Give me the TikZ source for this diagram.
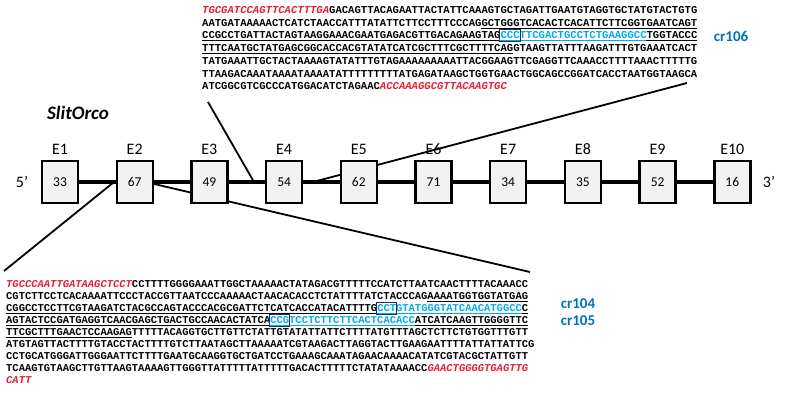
\documentclass[tikz,border=0pt]{standalone}
\usepackage{fontspec}
\setmainfont{Carlito}
\newfontfamily\seqfont{Liberation Mono}
\definecolor{seqred}{RGB}{228,30,52}
\definecolor{seqcyan}{RGB}{0,170,235}
\definecolor{crblue}{RGB}{0,112,192}
\definecolor{boxblue}{RGB}{25,50,95}
\definecolor{boxgray}{RGB}{242,242,242}
\newcommand\R[1]{{\color{seqred}\itshape #1}}
\newcommand\C[1]{{\color{seqcyan}#1}}
\def\cwT{6.349}
\def\cwB{6.289}
\pgfdeclarelayer{bg}
\pgfsetlayers{bg,main}
\tikzset{
  seqT/.style={anchor=base west, inner sep=0pt, font=\seqfont\bfseries\fontsize{10.58}{12}\selectfont},
  seqB/.style={anchor=base west, inner sep=0pt, font=\seqfont\bfseries\fontsize{10.48}{12}\selectfont},
  exon/.style={draw, line width=2.4pt, fill=boxgray, minimum width=36pt, minimum height=42pt, inner sep=0pt, font=\fontsize{13.5}{14}\selectfont},
  elabel/.style={font=\fontsize{16}{18}\selectfont, inner sep=0pt},
  endlabel/.style={font=\fontsize{16}{18}\selectfont, inner sep=0pt},
  genelink/.style={line width=3.8pt},
  zoomline/.style={line width=1.8pt},
  crlab/.style={text=crblue, font=\bfseries\fontsize{15}{16}\selectfont, inner sep=0pt},
  uline/.style={line width=0.8pt},
  ulinec/.style={line width=0.8pt, draw=seqcyan},
  pambox/.style={draw=boxblue, line width=1pt},
}
\begin{document}
\begin{tikzpicture}[x=1pt,y=-1pt]
\useasboundingbox (0,0) rectangle (787,392);

% gene structure
\foreach \n/\lab [count=\i] in {33/E1,67/E2,49/E3,54/E4,62/E5,71/E6,34/E7,35/E8,52/E9,16/E10}{
  \node[exon] (e\i) at ({60+74.7*(\i-1)},182) {\n};
  \node[elabel] (l\i) at ({60+74.7*(\i-1)},149) {\lab};
}
\node[endlabel] (p5) at (22,182) {5’};
\node[endlabel] (p3) at (769,182) {3’};
\node[inner sep=0pt, font=\bfseries\itshape\fontsize{19}{20}\selectfont] (title) at (78,113) {SlitOrco};

% zoom line end points
\coordinate (tA) at (208,102);
\coordinate (tAe) at (254,182);
\coordinate (tB) at (687,83);
\coordinate (tBe) at (313,182);
\coordinate (bA) at (4,271);
\coordinate (bAe) at (114,182);
\coordinate (bB) at (530,272);
\coordinate (bBe) at (150,183);

\begin{pgfonlayer}{bg}
  \draw[zoomline] (tA) -- (tAe);
  \draw[zoomline] (tB) -- (tBe);
  \draw[zoomline] (bA) -- (bAe);
  \draw[zoomline] (bB) -- (bBe);
  \draw[genelink] (e1.center) -- (e10.center);
\end{pgfonlayer}

% top sequence block
\node[seqT] (t1) at (202,13.5) {\R{TGCGATCCAGTTCACTTTGA}GACAGTTACAGAATTACTATTCAAAGTGCTAGATTGAATGTAGGTGCTATGTACTGTG};
\node[seqT] (t2) at (202,26.2) {AATGATAAAAACTCATCTAACCATTTATATTCTTCCTTTCCCAGGCTGGGTCACACTCACATTCTTCGGTGAATCAGT};
\node[seqT] (t3) at (202,38.9) {CCGCCTGATTACTAGTAAGGAAACGAATGAGACGTTGACAGAAGTAG\C{CCCTTCGACTGCCTCTGAAGGCC}TGGTACCC};
\node[seqT] (t4) at (202,51.6) {TTTCAATGCTATGAGCGGCACCACGTATATCATCGCTTTCGCTTTTCAGGTAAGTTATTTAAGATTTGTGAAATCACT};
\node[seqT] (t5) at (202,64.3) {TATGAAATTGCTACTAAAAGTATATTTGTAGAAAAAAAAATTACGGAAGTTCGAGGTTCAAACCTTTTAAACTTTTTG};
\node[seqT] (t6) at (202,77.0) {TTAAGACAAATAAAATAAAATATTTTTTTTTATGAGATAAGCTGGTGAACTGGCAGCCGGATCACCTAATGGTAAGCA};
\node[seqT] (t7) at (202,89.7) {ATCGGCGTCGCCCATGGACATCTAGAAC\R{ACCAAAGGCGTTACAAGTGC}};

\draw[uline] ({202+44*\cwT},28.0) -- ({202+78*\cwT},28.0);
\draw[uline] (202,40.7) -- ({202+47*\cwT},40.7);
\draw[ulinec] ({202+47*\cwT},40.7) -- ({202+70*\cwT},40.7);
\draw[uline] ({202+70*\cwT},40.7) -- ({202+78*\cwT},40.7);
\draw[uline] (202,53.4) -- ({202+49*\cwT},53.4);
\draw[pambox] ({202+47*\cwT-0.8},29.6) rectangle ({202+50*\cwT+0.8},41.5);

\node[crlab] (cr106) at (731,36) {cr106};

% bottom sequence block
\node[seqB] (b1) at (6,287.5) {\R{TGCCCAATTGATAAGCTCCT}CCTTTTGGGGAAATTGGCTAAAAACTATAGACGTTTTTCCATCTTAATCAACTTTTACAAACC};
\node[seqB] (b2) at (6,299.5) {CGTCTTCCTCACAAAATTCCCTACCGTTAATCCCAAAAACTAACACACCTCTATTTTATCTACCCAGAAAATGGTGGTATGAG};
\node[seqB] (b3) at (6,311.5) {CGGCCTCCTTCGTAAGATCTACGCCAGTACCCACGCGATTCTCATCACCATACATTTTG\C{CCTGTATGGGTATCAACATGGCC}C};
\node[seqB] (b4) at (6,323.5) {AGTACTCCGATGAGGTCAACGAGCTGACTGCCAACACTATCA\C{CCGTCCTCTTCTTCACTCACACC}ATCATCAAGTTGGGGTTC};
\node[seqB] (b5) at (6,335.5) {TTCGCTTTGAACTCCAAGAGTTTTTACAGGTGCTTGTTCTATTGTATATTATTCTTTTATGTTTAGCTCTTCTGTGGTTTGTT};
\node[seqB] (b6) at (6,347.5) {ATGTAGTTACTTTTGTACCTACTTTTGTCTTAATAGCTTAAAAATCGTAAGACTTAGGTACTTGAAGAATTTTATTATTATTCG};
\node[seqB] (b7) at (6,359.5) {CCTGCATGGGATTGGGAATTCTTTTGAATGCAAGGTGCTGATCCTGAAAGCAAATAGAACAAAACATATCGTACGCTATTGTT};
\node[seqB] (b8) at (6,371.5) {TCAAGTGTAAGCTTGTTAAGTAAAAGTTGGGTTATTTTTATTTTTGACACTTTTTCTATATAAAACC\R{GAACTGGGGTGAGTTG}};
\node[seqB] (b9) at (6,383.5) {\R{CATT}};

\draw[uline] ({6+67*\cwB},301.3) -- ({6+83*\cwB},301.3);
\draw[uline] (6,313.3) -- ({6+59*\cwB},313.3);
\draw[ulinec] ({6+59*\cwB},313.3) -- ({6+82*\cwB},313.3);
\draw[uline] ({6+82*\cwB},313.3) -- ({6+83*\cwB},313.3);
\draw[uline] (6,325.3) -- ({6+42*\cwB},325.3);
\draw[ulinec] ({6+42*\cwB},325.3) -- ({6+65*\cwB},325.3);
\draw[uline] ({6+65*\cwB},325.3) -- ({6+83*\cwB},325.3);
\draw[uline] (6,337.3) -- ({6+20*\cwB},337.3);
\draw[pambox] ({6+59*\cwB-0.8},302.2) rectangle ({6+62*\cwB+0.8},314.1);
\draw[pambox] ({6+42*\cwB-0.8},314.2) rectangle ({6+45*\cwB+0.8},326.1);

\node[crlab] (cr104) at (578,304) {cr104};
\node[crlab] (cr105) at (578,321) {cr105};
\end{tikzpicture}
\end{document}
